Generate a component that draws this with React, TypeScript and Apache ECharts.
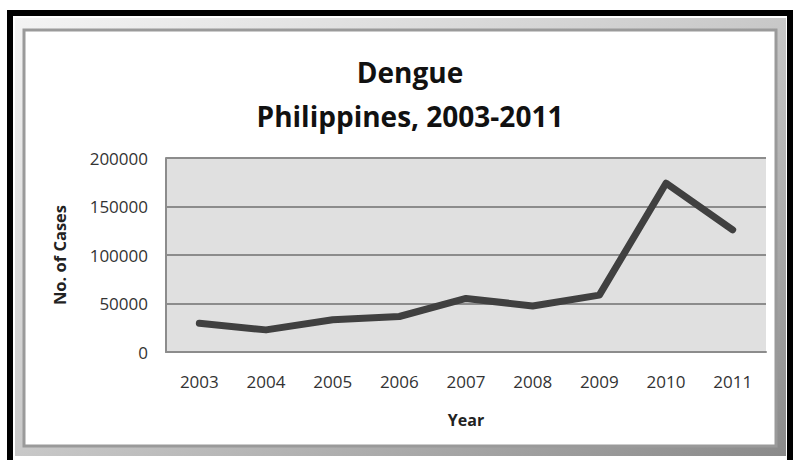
import React, { useEffect, useRef } from "react";
import * as echarts from "echarts";

const years = ["2003", "2004", "2005", "2006", "2007", "2008", "2009", "2010", "2011"];
const cases = [29600, 22800, 33200, 36600, 55200, 47500, 58600, 174000, 126000];
const yTicks = { min: 0, max: 200000, interval: 50000 };

const FONT = "'Open Sans', Lato, sans-serif";

export default function App() {
  const ref = useRef<HTMLDivElement>(null);
  useEffect(() => {
    if (!ref.current) return;
    const chart = echarts.init(ref.current, undefined, { renderer: "svg" });
    chart.setOption({
      animation: false,
      backgroundColor: "#ffffff",
      graphic: [
        {
          type: "rect",
          z: -10,
          shape: { x: 10, y: 13, width: 780, height: 450 },
          style: { fill: "none", stroke: "#000", lineWidth: 6 },
        },
        {
          type: "rect",
          z: -9,
          shape: { x: 15, y: 18, width: 771, height: 438 },
          style: {
            fill: new echarts.graphic.LinearGradient(0, 0, 1, 1, [
              { offset: 0, color: "#f4f4f4" },
              { offset: 0.5, color: "#c8c8c8" },
              { offset: 1, color: "#8a8a8a" },
            ]),
          },
        },
        {
          type: "rect",
          z: -8,
          shape: { x: 24, y: 30, width: 752, height: 416 },
          style: { fill: "#ffffff", stroke: "#9a9a9a", lineWidth: 3 },
        },
      ],
      title: {
        text: "Dengue\nPhilippines, 2003-2011",
        left: 405,
        top: 45,
        textAlign: "center",
        textStyle: {
          fontFamily: FONT,
          fontWeight: "bold",
          fontSize: 28,
          lineHeight: 44,
          color: "#111",
        },
      },
      grid: {
        left: 166,
        top: 158,
        right: 31,
        bottom: 108,
        show: true,
        backgroundColor: "#e0e0e0",
        borderWidth: 0,
      },
      xAxis: {
        type: "category",
        data: years,
        boundaryGap: true,
        name: "Year",
        nameLocation: "middle",
        nameGap: 60,
        nameTextStyle: { fontFamily: FONT, fontWeight: "bold", fontSize: 16, color: "#222" },
        axisLine: { show: true, lineStyle: { color: "#8c8c8c", width: 2 } },
        axisTick: { show: false },
        axisLabel: { fontFamily: FONT, fontSize: 17, color: "#333", margin: 21 },
      },
      yAxis: {
        type: "value",
        min: yTicks.min,
        max: yTicks.max,
        interval: yTicks.interval,
        name: "No. of Cases",
        nameLocation: "middle",
        nameGap: 98,
        nameRotate: 90,
        nameTextStyle: { fontFamily: FONT, fontWeight: "bold", fontSize: 16.5, color: "#222" },
        axisLine: { show: true, lineStyle: { color: "#8c8c8c", width: 2 } },
        axisTick: { show: false },
        splitLine: { show: true, lineStyle: { color: "#8c8c8c", width: 2 } },
        axisLabel: {
          fontFamily: FONT,
          fontSize: 17,
          color: "#333",
          margin: 18,
          formatter: (v: number) => String(v),
        },
      },
      series: [
        {
          type: "line",
          data: cases,
          showSymbol: false,
          symbol: "none",
          lineStyle: { color: "#404040", width: 7, cap: "round", join: "round" },
        },
      ],
    });
    return () => chart.dispose();
  }, []);
  return <div ref={ref} style={{ width: 797, height: 460, position: "absolute", left: 0, top: 0 }} />;
}
